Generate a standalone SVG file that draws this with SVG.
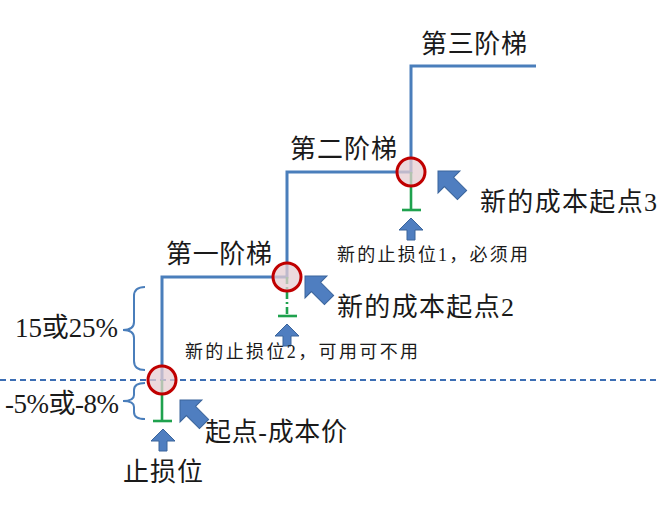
<svg xmlns="http://www.w3.org/2000/svg" xmlns:xlink="http://www.w3.org/1999/xlink" width="660" height="512" viewBox="0 0 660 512">
<style>
.step{fill:none;stroke:#4A7EBB;stroke-width:3}
.base{fill:none;stroke:#3D6EB4;stroke-width:1.8;stroke-dasharray:6 4}
.brace{fill:none;stroke:#4A7EBB;stroke-width:2}
.stop{fill:none;stroke:#1FA24E;stroke-width:2.6}
.stopd{fill:none;stroke:#1FA24E;stroke-width:2.6;stroke-dasharray:7 3 2 3}
.ring{fill:#E6CDD1;fill-opacity:0.75;stroke:#C00000;stroke-width:3}
.arr{fill:#4F7EC0;stroke:#3A649B;stroke-width:1}
.big{font-family:"Liberation Serif","Noto Sans CJK SC",serif;font-size:26px;fill:#1a1a1a}
.pct{font-family:"Liberation Serif","Noto Sans CJK SC",serif;font-size:27px;fill:#1a1a1a}
.sm{font-family:"Liberation Serif","Noto Sans CJK SC",serif;font-size:18px;fill:#1a1a1a}
</style>
<defs>
<path id="up" d="M0,0 L12,12 L4,12 L4,22 L-4,22 L-4,12 L-12,12 Z"/>
<path id="diag" d="M0,0 L15.5,15.5 L6.5,15.5 L6.5,34 L-6.5,34 L-6.5,15.5 L-15.5,15.5 Z"/>
</defs>
<g id="connectors">
<line class="base" x1="0" y1="380" x2="660" y2="380"/>
<path class="step" d="M162,380 V277 H287 V172 H411 V66 H536"/>
<line class="stop" x1="162" y1="380" x2="162" y2="421"/>
<line class="stop" x1="153" y1="421" x2="172" y2="421"/>
<line class="stopd" x1="287" y1="277" x2="287" y2="316"/>
<line class="stop" x1="278" y1="316" x2="297" y2="316"/>
<line class="stop" x1="411" y1="172" x2="411" y2="210"/>
<line class="stop" x1="402" y1="210" x2="421" y2="210"/>
<path class="brace" d="M145,287 Q134,287 134,296 V322 Q134,330 123,330 Q134,330 134,338 V361 Q134,370 145,370"/>
<path class="brace" d="M145,383 Q134,383 134,390 V395 Q134,401 123,401 Q134,401 134,407 V412 Q134,419 145,419"/>
</g>
<g id="node-start">
<circle class="ring" cx="162" cy="380" r="14"/>
<use xlink:href="#diag" class="arr" transform="translate(180,400) rotate(-45)"/>
<use xlink:href="#up" class="arr" transform="translate(163,429)"/>
<text class="big" x="205" y="441" textLength="142">起点-成本价</text>
<text class="big" x="123" y="481" textLength="80">止损位</text>
</g>
<g id="node-cost2">
<circle class="ring" cx="287" cy="277" r="14"/>
<use xlink:href="#diag" class="arr" transform="translate(305,276) rotate(-45)"/>
<use xlink:href="#up" class="arr" transform="translate(287,324)"/>
<text class="big" x="337" y="316" textLength="177">新的成本起点2</text>
<text class="sm" x="185" y="358" textLength="233">新的止损位2，可用可不用</text>
</g>
<g id="node-cost3">
<circle class="ring" cx="411" cy="172" r="14"/>
<use xlink:href="#diag" class="arr" transform="translate(438,171) rotate(-45)"/>
<use xlink:href="#up" class="arr" transform="translate(411,218)"/>
<text class="big" x="480" y="211" textLength="177">新的成本起点3</text>
<text class="sm" x="337" y="261" textLength="191">新的止损位1，必须用</text>
</g>
<g id="labels">
<text class="big" x="421" y="53" textLength="106">第三阶梯</text>
<text class="big" x="290" y="158" textLength="107">第二阶梯</text>
<text class="big" x="166" y="263" textLength="106">第一阶梯</text>
<text class="pct" x="15" y="337" textLength="103">15或25%</text>
<text class="pct" x="5" y="413" textLength="114">-5%或-8%</text>
</g>
</svg>
